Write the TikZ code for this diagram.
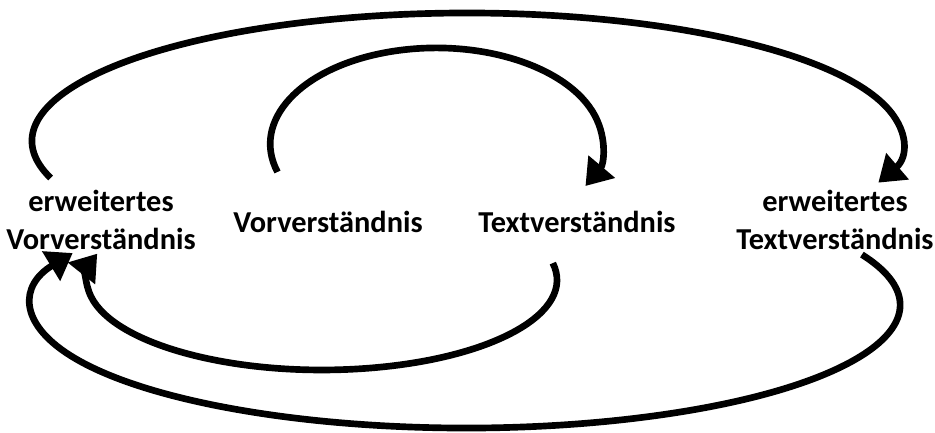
\documentclass[tikz,border=0pt]{standalone}
\usepackage{fontspec}
\setmainfont{Carlito}
\usetikzlibrary{arrows.meta}
\tikzset{
  lbl/.style={font=\bfseries\fontsize{22.8}{29}\selectfont, align=center, inner sep=0pt},
  cyc/.style={line width=5pt, -{Triangle[length=19pt,width=25pt]}}
}
\begin{document}
\begin{tikzpicture}[x=0.75pt,y=0.75pt]
\useasboundingbox (0,0) rectangle (935,432);
% text nodes
\node[lbl] (evv) at (101,212) {erweitertes\\Vorverständnis};
\node[lbl] (vv) at (328,210) {Vorverständnis};
\node[lbl] (tv) at (577,210) {Textverständnis};
\node[lbl] (etv) at (835,212) {erweitertes\\Textverständnis};
% arc start points
\coordinate (sOT) at (50.6,254);
\coordinate (sIT) at (277.5,260);
\coordinate (sIB) at (552.8,168.9);
\coordinate (sOB) at (861.9,177.4);
% connectors
\draw[cyc] (sOT) arc[start angle=196.8, end angle=-19, x radius=435, y radius=128];
\draw[cyc] (sIT) arc[start angle=197, end angle=-26, x radius=166, y radius=96];
\draw[cyc] (sIB) arc[start angle=10.8, end angle=-197, x radius=235, y radius=90];
\draw[cyc] (sOB) arc[start angle=24.2, end angle=-205, x radius=434, y radius=123];
\end{tikzpicture}
\end{document}
